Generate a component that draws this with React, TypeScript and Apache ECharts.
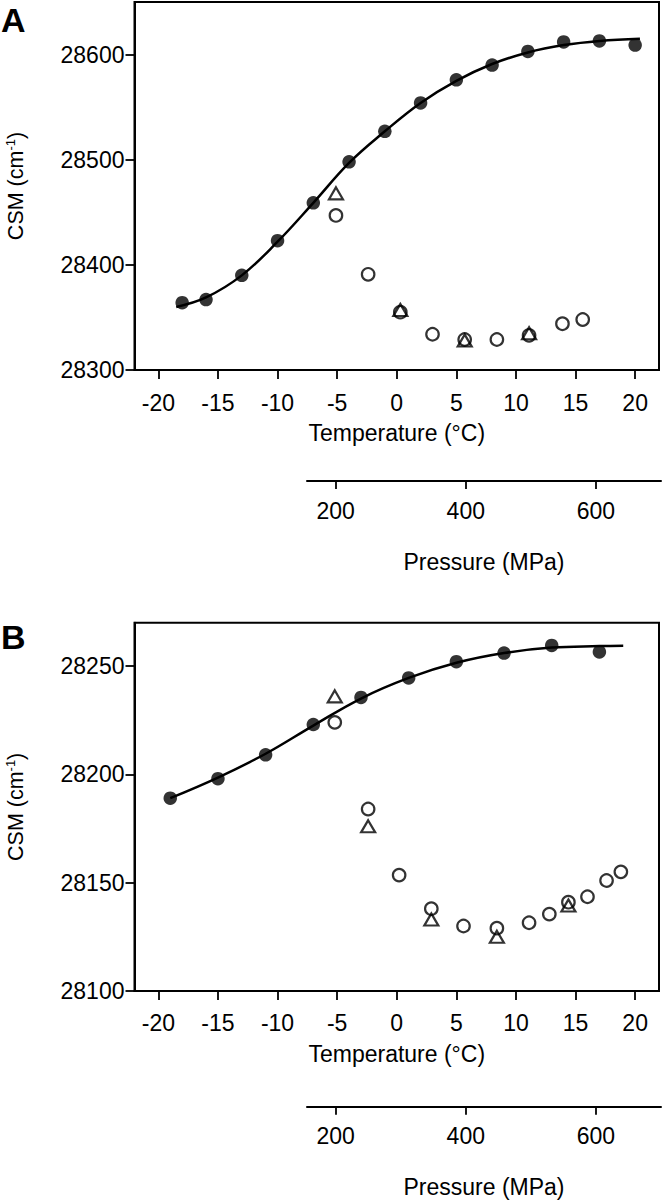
import React, { useEffect, useRef } from 'react';
import * as echarts from 'echarts';

const FONT = '"Liberation Sans", Arial, Helvetica, sans-serif';

// Axis ticks / labels
const tempTicks = [-20, -15, -10, -5, 0, 5, 10, 15, 20];
const pressureTicks = [200, 400, 600];
const aYTicks = [28300, 28400, 28500, 28600];
const bYTicks = [28100, 28150, 28200, 28250];

// Panel A
const aFilledT = [-18, -16, -13, -10, -7, -4, -1, 2, 5, 8, 11, 14, 17, 20];
const aFilledCSM = [28364, 28367, 28390, 28423, 28459, 28498, 28527, 28554, 28576, 28590, 28603, 28612, 28613, 28609];
const aCircleT = [-5.1, -2.4, 0.3, 3.0, 5.7, 8.4, 11.1, 13.9, 15.6];
const aCircleCSM = [28447, 28391, 28355, 28334, 28329, 28329, 28333, 28344, 28348];
const aTriangleT = [-5.1, 0.3, 5.7, 11.1];
const aTriangleCSM = [28468, 28357, 28328, 28335];
const aFitT = [-18.5, -16, -13, -10, -7, -4, -1, 2, 5, 8, 11, 14, 17, 20.4];
const aFitCSM = [28360, 28369, 28390, 28422, 28459, 28497, 28527, 28554, 28575, 28591, 28602, 28609, 28613, 28615];

// Panel B
const bFilledT = [-19, -15, -11, -7, -3, 1, 5, 9, 13, 17];
const bFilledCSM = [28189, 28198, 28209, 28223, 28235.5, 28244.5, 28252, 28256, 28259.5, 28256.5];
const bCircleT = [-5.2, -2.4, 0.2, 2.9, 5.6, 8.4, 11.1, 12.8, 14.4, 16.0, 17.6, 18.8];
const bCircleCSM = [28224, 28184, 28153.5, 28138, 28130, 28129, 28131.5, 28135.5, 28141, 28143.5, 28151, 28155];
const bTriangleT = [-5.2, -2.4, 2.9, 8.4, 14.4];
const bTriangleCSM = [28236, 28176, 28133, 28125, 28139.5];
const bFitT = [-19, -15, -11, -7, -3, 1, 5, 9, 13, 17, 19];
const bFitCSM = [28189, 28198.5, 28209.5, 28222.5, 28235, 28244.5, 28251.5, 28256, 28258.5, 28259.2, 28259.4];

const zip = (xs: number[], ys: number[]) => xs.map((x, i) => [x, ys[i]]);

const txt = { fontSize: 23, fontFamily: FONT, color: '#000' };

function tempAxis(gridIndex: number, margin: number, nameGap: number) {
  return {
    type: 'value', gridIndex, min: -22, max: 22, position: 'bottom',
    axisLine: { show: true, onZero: false, lineStyle: { color: '#000', width: 2 } },
    axisTick: { show: true, inside: false, length: 9, lineStyle: { color: '#000', width: 1.8 }, customValues: tempTicks },
    axisLabel: { show: true, customValues: tempTicks, margin, ...txt, formatter: (v: number) => String(v) },
    splitLine: { show: false },
    name: 'Temperature (°C)', nameLocation: 'middle', nameGap, nameTextStyle: { ...txt },
  };
}

function pressAxis(gridIndex: number, margin: number, nameGap: number) {
  return {
    type: 'value', gridIndex, min: 156, max: 700, position: 'bottom',
    axisLine: { show: true, onZero: false, lineStyle: { color: '#000', width: 2 } },
    axisTick: { show: true, inside: false, length: 8, lineStyle: { color: '#000', width: 1.8 }, customValues: pressureTicks },
    axisLabel: { show: true, customValues: pressureTicks, margin, ...txt, formatter: (v: number) => String(v) },
    splitLine: { show: false },
    name: 'Pressure (MPa)', nameLocation: 'middle', nameGap, nameTextStyle: { ...txt },
  };
}

function csmAxis(gridIndex: number, min: number, max: number, ticks: number[]) {
  return {
    type: 'value', gridIndex, min, max, position: 'left',
    axisLine: { show: true, onZero: false, lineStyle: { color: '#000', width: 2 } },
    axisTick: { show: true, inside: false, length: 9, lineStyle: { color: '#000', width: 1.8 }, customValues: ticks },
    axisLabel: { show: true, customValues: ticks, margin: 10, ...txt, formatter: (v: number) => String(v) },
    splitLine: { show: false },
    name: '{n|CSM (cm}{s|-1}{n|)}', nameLocation: 'middle', nameGap: 106, nameRotate: 90,
    nameTextStyle: {
      rich: {
        n: { fontSize: 21.5, fontFamily: FONT, color: '#000', lineHeight: 25 },
        s: { fontSize: 13, fontFamily: FONT, color: '#000', verticalAlign: 'top', lineHeight: 13 },
      },
    },
  };
}

const hiddenY = (gridIndex: number) => ({ type: 'value', gridIndex, show: false, min: 0, max: 1 });

const filled = (name: string, xi: number, data: number[][]) => ({
  name, type: 'scatter', xAxisIndex: xi, yAxisIndex: xi, data, symbol: 'circle', symbolSize: 13.5,
  itemStyle: { color: '#000' }, z: 4,
});
const open = (name: string, xi: number, data: number[][], symbol: string, size: any) => ({
  name, type: 'scatter', xAxisIndex: xi, yAxisIndex: xi, data, symbol, symbolSize: size,
  itemStyle: { color: 'rgba(0,0,0,0)', borderColor: '#000', borderWidth: 2.2 }, z: 4,
});
const fit = (name: string, xi: number, data: number[][]) => ({
  name, type: 'line', xAxisIndex: xi, yAxisIndex: xi, data, smooth: 0.4, showSymbol: false, symbol: 'none',
  lineStyle: { color: '#000', width: 2.5 }, z: 3,
});

const option: any = {
  animation: false,
  backgroundColor: '#fff',
  grid: [
    { left: 134.5, top: 2, width: 524.5, height: 368, show: true, borderColor: '#000', borderWidth: 2, containLabel: false, outerBoundsMode: 'none' },
    { left: 307, top: 480, width: 354, height: 1, show: false, containLabel: false, outerBoundsMode: 'none' },
    { left: 134.5, top: 622.7, width: 524.5, height: 368.3, show: true, borderColor: '#000', borderWidth: 2, containLabel: false, outerBoundsMode: 'none' },
    { left: 307, top: 1105.7, width: 354, height: 1, show: false, containLabel: false, outerBoundsMode: 'none' },
  ],
  xAxis: [
    tempAxis(0, 21, 51.5),
    pressAxis(1, 18, 69),
    tempAxis(2, 20, 51),
    pressAxis(3, 18, 68.5),
  ],
  yAxis: [
    csmAxis(0, 28300, 28650, aYTicks),
    hiddenY(1),
    csmAxis(2, 28100, 28270, bYTicks),
    hiddenY(3),
  ],
  graphic: [
    { type: 'text', left: 1, top: 3, style: { text: 'A', font: `bold 34px ${FONT}`, fill: '#000' } },
    { type: 'text', left: 1, top: 620, style: { text: 'B', font: `bold 34px ${FONT}`, fill: '#000' } },
  ],
  series: [
    fit('A fit', 0, zip(aFitT, aFitCSM)),
    filled('A filled', 0, zip(aFilledT, aFilledCSM)),
    open('A circles', 0, zip(aCircleT, aCircleCSM), 'circle', 12.5),
    open('A triangles', 0, zip(aTriangleT, aTriangleCSM), 'triangle', [14, 12]),
    fit('B fit', 2, zip(bFitT, bFitCSM)),
    filled('B filled', 2, zip(bFilledT, bFilledCSM)),
    open('B circles', 2, zip(bCircleT, bCircleCSM), 'circle', 12.5),
    open('B triangles', 2, zip(bTriangleT, bTriangleCSM), 'triangle', [14, 12]),
  ],
};

export default function App() {
  const ref = useRef<HTMLDivElement>(null);
  useEffect(() => {
    if (!ref.current) return;
    const chart = echarts.init(ref.current, null, { renderer: 'svg' });
    chart.setOption(option);
    return () => chart.dispose();
  }, []);
  return (
    <div
      ref={ref}
      style={{ position: 'absolute', left: 0, top: 0, width: 664, height: 1200, background: '#fff' }}
    />
  );
}
